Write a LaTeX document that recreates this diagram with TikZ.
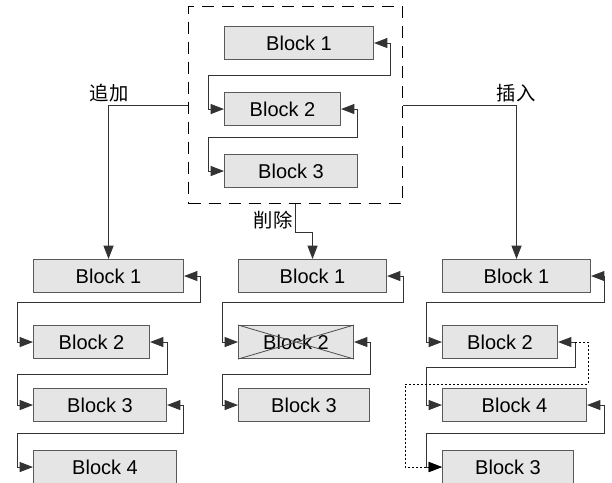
\documentclass[tikz,border=0pt]{standalone}
\usepackage{fontspec}
\setmainfont{Liberation Sans}
\newfontfamily\cjk{Noto Sans CJK SC}
\usetikzlibrary{arrows.meta}
\begin{document}
\begin{tikzpicture}[x=0.75pt,y=-0.75pt,
  blk/.style={draw=black!65, fill=black!10, line width=0.8pt,
    minimum width=#1*0.75pt, minimum height=33*0.75pt, inner sep=0pt,
    anchor=north west, font=\fontsize{15}{18}\selectfont},
  dlink/.style={draw=black!80, line width=0.75pt, {Triangle[length=10pt,width=7.5pt]}-{Triangle[length=10pt,width=7.5pt]}},
  arr/.style={draw=black!80, line width=0.75pt, -{Triangle[length=10pt,width=7.5pt]}},
  dotlink/.style={draw=black, line width=0.75pt, dash pattern=on 1.5pt off 1.5pt, -{Triangle[length=10pt,width=7.5pt]}},
  lbl/.style={font=\cjk\fontsize{14.5}{16}\selectfont, inner sep=0pt},
  grpbox/.style={draw=black, line width=0.75pt, dash pattern=on 9pt off 6pt,
    minimum width=214*0.75pt, minimum height=197*0.75pt, inner sep=0pt, anchor=north west}]
\useasboundingbox (0,0) rectangle (612,483);

% original list
\node (grp) [grpbox] at (188,6) {};
\node (T1) [blk=149] at (224,26) {Block 1};
\node (T2) [blk=116] at (224,92) {Block 2};
\node (T3) [blk=133] at (224,154) {Block 3};
\draw[dlink] (T1.east) -- ++(16,0) |- (208,75) |- (T2.west);
\draw[dlink] (T2.east) -- ++(16,0) |- (208,137) |- (T3.west);

% append
\node (L1) [blk=150] at (33,259) {Block 1};
\node (L2) [blk=116] at (33,325) {Block 2};
\node (L3) [blk=133] at (33,388) {Block 3};
\node (L4) [blk=143] at (33,450) {Block 4};
\draw[dlink] (L1.east) -- ++(16,0) |- (17,302) |- (L2.west);
\draw[dlink] (L2.east) -- ++(17,0) |- (17,374) |- (L3.west);
\draw[dlink] (L3.east) -- ++(16,0) |- (17,433) |- (L4.west);

% delete
\node (M1) [blk=148] at (238,259) {Block 1};
\node (M2) [blk=115] at (238,325) {Block 2};
\node (M3) [blk=131] at (238,388) {Block 3};
\draw[black!70, line width=0.6pt] (M2.north west) -- (M2.south east)
  (M2.south west) -- (M2.north east);
\draw[dlink] (M1.east) -- ++(16,0) |- (222,302) |- (M2.west);
\draw[dlink] (M2.east) -- ++(16,0) |- (222,374) |- (M3.west);

% insert
\node (R1) [blk=148] at (442,259) {Block 1};
\node (R2) [blk=115] at (442,325) {Block 2};
\node (R4) [blk=144] at (442,388) {Block 4};
\node (R3) [blk=131] at (442,450) {Block 3};
\draw[dlink] (R1.east) -- ++(13,0) |- (426,302) |- (R2.west);
\draw[dlink] (R2.east) -- ++(17,0) |- (426,367) |- (R4.west);
\draw[dlink] (R4.east) -- ++(17,0) |- (426,433) |- (R3.west);
\draw[dotlink] ([xshift=17*0.75pt]R2.east) -- ++(13,0) |- (405,384) |- (R3.west);

% operations
\draw[arr] (grp.west) -| (L1.north);
\draw[arr] (grp.east) -| (R1.north);
\draw[arr] (grp.south) -- ++(0,28) -| (M1.north);
\node (add) [lbl] at (109,93) {追加};
\node (ins) [lbl] at (516,93) {插入};
\node (del) [lbl] at (273,220) {削除};
\end{tikzpicture}
\end{document}
